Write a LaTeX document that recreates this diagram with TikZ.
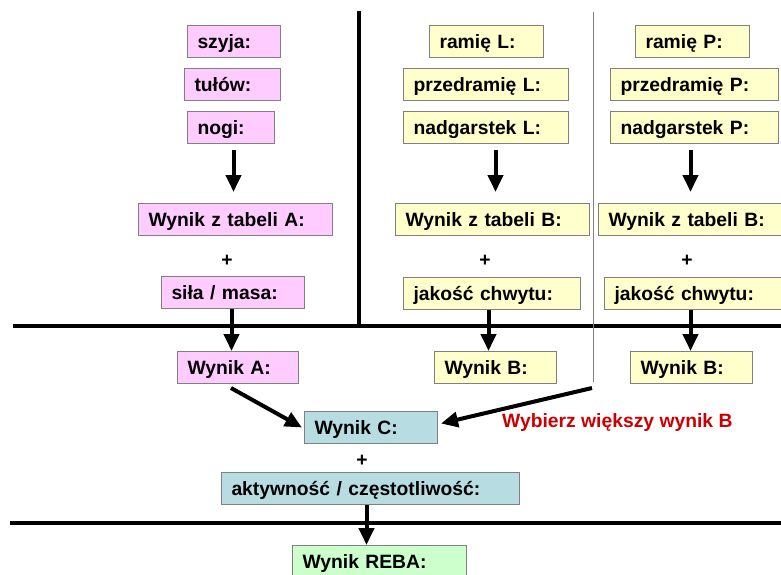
\documentclass[tikz,border=0pt]{standalone}
\usepackage{fontspec}
\setmainfont{Liberation Sans}
\usetikzlibrary{arrows.meta}
\definecolor{pinkf}{RGB}{255,204,255}
\definecolor{yelf}{RGB}{255,255,204}
\definecolor{tealf}{RGB}{183,221,226}
\definecolor{greenf}{RGB}{204,255,204}
\definecolor{boxgray}{RGB}{128,128,128}
\definecolor{redtxt}{RGB}{204,0,0}
\begin{document}
\begin{tikzpicture}[x=1pt,y=-1pt,
  font=\fontsize{19.3}{22}\selectfont\bfseries,
  box/.style={draw=boxgray,line width=1pt,anchor=north west,inner xsep=10pt,inner ysep=0pt,
    minimum height=32pt,text height=13.8pt,text depth=0pt,align=left},
  pk/.style={box,fill=pinkf},
  yl/.style={box,fill=yelf},
  tl/.style={box,fill=tealf},
  gr/.style={box,fill=greenf},
  plus/.style={inner sep=0pt},
  arr/.style={line width=4pt,-{Triangle[width=15pt,length=17pt]}},
  sepline/.style={line width=4pt},
  thinline/.style={line width=1pt,draw=boxgray}
]
\useasboundingbox (0,0) rectangle (781,574);
% separator lines
\draw[sepline] (359,11) -- (359,326);
\draw[sepline] (13,326) -- (790,326);
\draw[sepline] (10,523) -- (790,523);
\coordinate (gtop) at (593,12);
\coordinate (gbot) at (593,382);
\draw[thinline] (gtop) -- (gbot);

% column A
\node[pk,text width=73pt] (szyja) at (187,25) {szyja:};
\node[pk,text width=76pt] (tulow) at (184,68) {tułów:};
\node[pk,text width=67pt] (nogi) at (187,111) {nogi:};
\node[pk,text width=174pt] (tabA) at (138,203) {Wynik z tabeli A:};
\node[plus] (plA) at (227,261) {+};
\node[pk,text width=123pt] (sila) at (161,276) {siła / masa:};
\node[pk,text width=101pt] (wynA) at (177,351) {Wynik A:};

% column L
\node[yl,text width=94pt] (ramL) at (429,25) {ramię L:};
\node[yl,text width=145pt] (przL) at (403,68) {przedramię L:};
\node[yl,text width=145pt] (nadL) at (403,111) {nadgarstek L:};
\node[yl,text width=174pt] (tabBL) at (395,203) {Wynik z tabeli B:};
\node[plus] (plL) at (485,261) {+};
\node[yl,text width=157pt] (jakL) at (403,277) {jakość chwytu:};
\node[yl,text width=102pt] (wynBL) at (434,351) {Wynik B:};

% column P
\node[yl,text width=94pt] (ramP) at (635,25) {ramię P:};
\node[yl,text width=148pt] (przP) at (610,68) {przedramię P:};
\node[yl,text width=148pt] (nadP) at (610,111) {nadgarstek P:};
\node[yl,text width=174pt] (tabBP) at (598,203) {Wynik z tabeli B:};
\node[plus] (plP) at (687,261) {+};
\node[yl,text width=165pt] (jakP) at (604,277) {jakość chwytu:};
\node[yl,text width=102pt] (wynBP) at (630,351) {Wynik B:};

% bottom
\node[tl,text width=113pt] (wynC) at (304,411) {Wynik C:};
\node[plus] (plC) at (362,461) {+};
\node[tl,text width=278pt] (akt) at (221,472) {aktywność / częstotliwość:};
\node[gr,text width=154pt] (reba) at (292,545) {Wynik REBA:};
\node[anchor=west,text=redtxt,inner sep=0pt] (note) at (502,422) {Wybierz większy wynik B};

% arrows top
\coordinate (a1s) at ([xshift=2.5pt,yshift=-6pt]nogi.south);
\coordinate (a1e) at (a1s |- tabA.north);
\draw[arr,shorten >=11pt] (a1s) -- (a1e);
\coordinate (a2e) at ([xshift=3pt]tabBL.north);
\coordinate (a2s) at ([yshift=-6pt]a2e |- nadL.south);
\draw[arr,shorten >=11pt] (a2s) -- (a2e);
\coordinate (a3s) at ([xshift=-4pt,yshift=-6pt]nadP.south);
\coordinate (a3e) at (a3s |- tabBP.north);
\draw[arr,shorten >=11pt] (a3s) -- (a3e);

% arrows middle
\draw[arr] ([xshift=-1.5pt]sila.south) -- ([xshift=-1.5pt]sila.south |- wynA.north);
\coordinate (a5s) at ([xshift=-3.5pt]jakL.south);
\draw[arr] (a5s) -- (a5s |- wynBL.north);
\coordinate (a6e) at ([xshift=-1pt]wynBP.north);
\draw[arr] (a6e |- jakP.south) -- (a6e);

% arrows to Wynik C
\draw[arr] ([xshift=-7pt,yshift=-4pt]wynA.south) -- ([xshift=-2pt]wynC.west);
\coordinate (bstart) at (592,388);
\draw[arr] (bstart) -- ([xshift=3pt,yshift=4pt]wynC.east);

% arrow to REBA
\coordinate (a7s) at ([xshift=-4pt]akt.south);
\draw[arr] (a7s) -- (a7s |- reba.north);
\end{tikzpicture}
\end{document}
